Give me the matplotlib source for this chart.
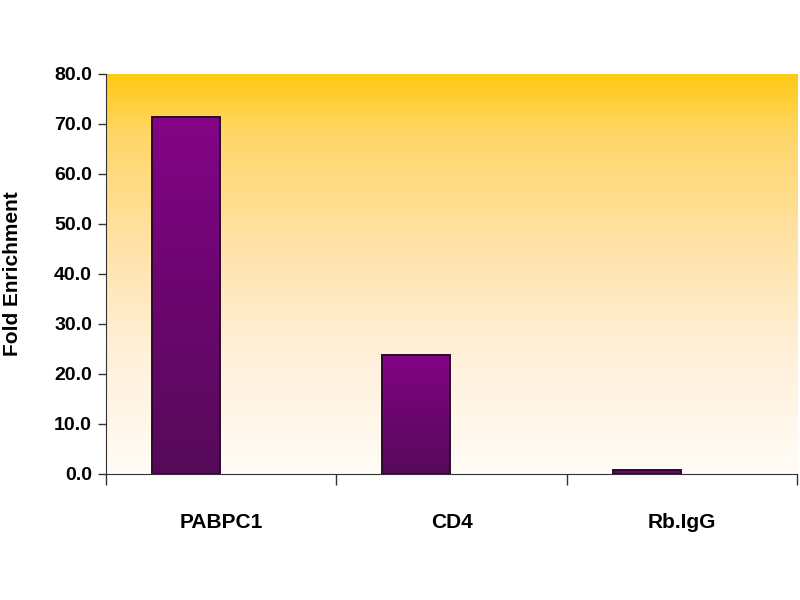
import numpy as np
import matplotlib
matplotlib.use("Agg")
import matplotlib.pyplot as plt
from matplotlib.colors import LinearSegmentedColormap

categories = ["PABPC1", "CD4", "Rb.IgG"]
values = [71.3, 23.8, 0.8]
yticks = [0, 10, 20, 30, 40, 50, 60, 70, 80]
ylabel = "Fold Enrichment"

font = ["Liberation Sans Narrow", "Liberation Sans", "DejaVu Sans"]

fig = plt.figure(figsize=(8, 6), dpi=100)
ax = fig.add_axes([0.1325, 0.21, 0.8638, 0.6667])

x = np.arange(len(categories))

# background gradient
bg = LinearSegmentedColormap.from_list(
    "bg", [(0.0, "#fffcf6"), (0.3, "#fff0da"), (0.6, "#ffe1a2"),
           (0.85, "#ffd668"), (1.0, "#ffc912")])
grad = np.linspace(0, 1, 256).reshape(-1, 1)
ax.imshow(grad, extent=(-0.5, len(categories) - 0.5, 0, 80), origin="lower",
          aspect="auto", cmap=bg, zorder=0)

# bars placed in the left half of each category
bar_w = 0.295
bars = ax.bar(x - 0.30, values, width=bar_w, align="edge",
              color="none", edgecolor="#2a0a2a", linewidth=1.4, zorder=3)
barcm = LinearSegmentedColormap.from_list("bar", ["#560a58", "#6c0670", "#840486"])
for b in bars:
    bx, by = b.get_x(), b.get_y()
    w, h = b.get_width(), b.get_height()
    im = ax.imshow(grad, extent=(bx, bx + w, by, by + h), origin="lower",
                   aspect="auto", cmap=barcm, zorder=2)
    im.set_clip_path(b)

ax.set_xlim(-0.5, len(categories) - 0.5)
ax.set_ylim(0, 80)

# axes styling
for s in ["top", "right"]:
    ax.spines[s].set_visible(False)
ax.spines["left"].set_color("#333333")
ax.spines["bottom"].set_color("#333333")

ax.set_yticks(yticks)
ax.set_yticklabels([f"{v:.1f}" for v in yticks], fontsize=14, fontweight="bold",
                   family=font)
ax.tick_params(axis="y", length=6, width=1, color="#333333", pad=4)

ax.set_xticks(np.arange(-0.5, len(categories), 1.0))
ax.set_xticklabels([])
ax.tick_params(axis="x", which="major", length=8, width=1, color="#333333")
ax.set_xticks(x, minor=True)
ax.set_xticklabels(categories, minor=True, fontsize=15, fontweight="bold", family=font)
ax.tick_params(axis="x", which="minor", length=0, pad=28)

ax.set_ylabel(ylabel, fontsize=15, fontweight="bold", family=font)
ax.yaxis.set_label_coords(-0.121, 0.5)

fig.savefig("out.png", dpi=100)
